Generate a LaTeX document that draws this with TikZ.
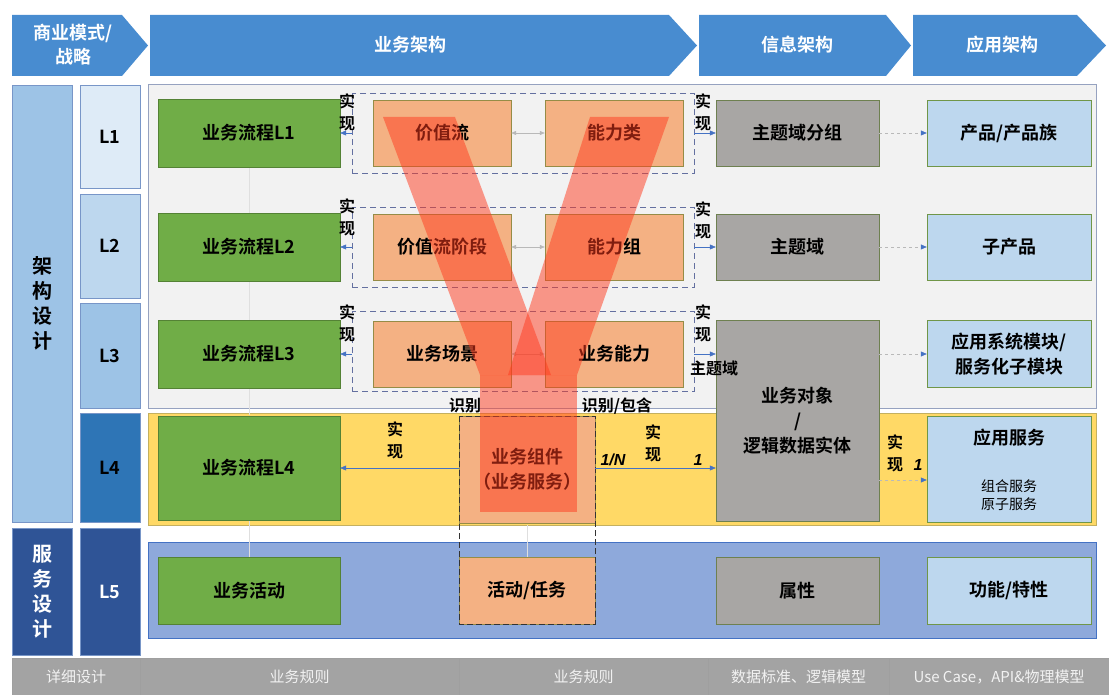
\documentclass[tikz,border=0pt]{standalone}
\usepackage{fontspec}
\setmainfont{Noto Sans CJK SC}[BoldFont={Noto Sans CJK SC Bold}]
\newfontfamily\numfont{Liberation Sans}
\usetikzlibrary{arrows.meta}
\definecolor{hdrblue}{RGB}{72,140,208}
\definecolor{sideblue}{RGB}{157,195,230}
\definecolor{darkblue}{RGB}{47,84,150}
\definecolor{lvlone}{RGB}{222,235,247}
\definecolor{lvltwo}{RGB}{189,215,238}
\definecolor{lvlfour}{RGB}{46,117,182}
\definecolor{lvlborder}{RGB}{120,150,200}
\definecolor{panelgrey}{RGB}{242,242,242}
\definecolor{panelborder}{RGB}{150,162,192}
\definecolor{bandyellow}{RGB}{255,217,102}
\definecolor{yellowborder}{RGB}{196,176,96}
\definecolor{bandblue}{RGB}{142,169,219}
\definecolor{bandborder}{RGB}{68,114,196}
\definecolor{procgreen}{RGB}{112,173,71}
\definecolor{greenborder}{RGB}{84,130,53}
\definecolor{orgfill}{RGB}{244,177,131}
\definecolor{orgborder}{RGB}{150,140,70}
\definecolor{infogrey}{RGB}{168,166,164}
\definecolor{greyborder}{RGB}{110,128,80}
\definecolor{appblue}{RGB}{189,215,238}
\definecolor{appborder}{RGB}{112,150,72}
\definecolor{dashblue}{RGB}{100,112,160}
\definecolor{arrblue}{RGB}{68,114,196}
\definecolor{footgrey}{RGB}{163,163,163}
\definecolor{foottext}{RGB}{242,242,242}
\definecolor{vred}{RGB}{255,58,30}

\begin{document}
\begin{tikzpicture}[x=1pt, y=-1pt]

            % 样式
            \tikzstyle{hdr} = [text=white, align=center, font=\bfseries\fontsize{18}{24}\selectfont]
            \tikzstyle{side} = [rectangle, draw=lvlborder, minimum width=60pt, align=center, font=\bfseries\fontsize{20}{25}\selectfont]
            \tikzstyle{lvl} = [rectangle, draw=lvlborder, minimum width=60pt, font=\bfseries\fontsize{18}{22}\selectfont]
            \tikzstyle{proc} = [rectangle, draw=greenborder, fill=procgreen, minimum width=182pt, minimum height=68pt, font=\bfseries\fontsize{18}{22}\selectfont]
            \tikzstyle{valbox} = [rectangle, draw=orgborder, fill=orgfill, minimum width=138pt, minimum height=66pt, font=\bfseries\fontsize{18}{22}\selectfont]
            \tikzstyle{infobox} = [rectangle, draw=greyborder, fill=infogrey, minimum width=163pt, minimum height=66pt, align=center, font=\bfseries\fontsize{18}{25}\selectfont]
            \tikzstyle{appbox} = [rectangle, draw=appborder, fill=appblue, minimum width=164pt, minimum height=66pt, align=center, font=\bfseries\fontsize{18}{25}\selectfont]
            \tikzstyle{dashbox} = [rectangle, draw=dashblue, dash pattern=on 6pt off 4pt, line width=0.9pt, minimum width=342pt, minimum height=80pt]
            \tikzstyle{lbl} = [inner sep=0pt, align=center, font=\bfseries\fontsize{16}{22}\selectfont]
            \tikzstyle{numlbl} = [inner sep=0pt, font=\numfont\bfseries\itshape\fontsize{16}{20}\selectfont]
            \tikzstyle{foot} = [rectangle, draw=gray!75, fill=footgrey, text=foottext, minimum height=37pt, font=\fontsize{15}{18}\selectfont]
            \tikzstyle{arrowb} = [draw=arrblue, line width=0.5pt, -{Triangle[length=6pt, width=5pt]}]
            \tikzstyle{arrowg} = [draw=gray!55, dashed, line width=0.6pt, -{Triangle[length=6pt, width=5pt, color=arrblue]}]
            \tikzstyle{arrowd} = [draw=gray!55, line width=0.6pt, {Triangle[length=5pt, width=4pt]}-{Triangle[length=5pt, width=4pt]}]
            \tikzstyle{faint} = [draw=gray!25, line width=0.6pt]
            \tikzstyle{small} = [font=\mdseries\fontsize{14}{18}\selectfont]

            \useasboundingbox (0,0) rectangle (1109,695);
            \fill[white] (0,0) rectangle (1109,695);

            % 顶部标题
            \fill[hdrblue] (12,15) -- (122,15) -- (148,45.5) -- (122,76) -- (12,76) -- cycle;
            \fill[hdrblue] (150,15) -- (669,15) -- (697,45.5) -- (669,76) -- (150,76) -- cycle;
            \fill[hdrblue] (699,15) -- (886,15) -- (911,45.5) -- (886,76) -- (699,76) -- cycle;
            \fill[hdrblue] (913,15) -- (1077,15) -- (1106,45.5) -- (1077,76) -- (913,76) -- cycle;
            \node (hstrat) [hdr] at (73,45) {商业模式/\\战略};
            \node (hbiz) [hdr] at (410,45) {业务架构};
            \node (hinfo) [hdr] at (797,45) {信息架构};
            \node (happ) [hdr] at (1002,45) {应用架构};

            % 左侧分层
            \node (jgsj) [side, fill=sideblue, minimum height=437pt] at (42,303.5) {架\\构\\设\\计};
            \node (fwsj) [side, fill=darkblue, text=white, minimum height=127pt] at (42,591.5) {服\\务\\设\\计};
            \node (l1) [lvl, fill=lvlone, minimum height=103pt] at (110,136.5) {L1};
            \node (l2) [lvl, fill=lvltwo, minimum height=104pt] at (110,246) {L2};
            \node (l3) [lvl, fill=sideblue, minimum height=105pt] at (110,355.5) {L3};
            \node (l4) [lvl, fill=lvlfour, minimum height=109pt] at (110,467.5) {L4};
            \node (l5) [lvl, fill=darkblue, text=white, minimum height=127pt] at (110,591.5) {L5};

            % 背景带
            \draw[panelborder, fill=panelgrey, line width=0.8pt] (148,84) rectangle (1096,408);
            \draw[yellowborder, fill=bandyellow, line width=0.8pt] (148,413) rectangle (1096,525);
            \draw[bandborder, fill=bandblue, line width=0.8pt] (148,542) rectangle (1096,638);

            % 淡连线
            \draw[faint] (249,168) -- (249,213);
            \draw[faint] (249,281) -- (249,320);
            \draw[faint] (249,388) -- (249,415);
            \draw[faint] (249,521) -- (249,557);
            \draw[faint] (527,525) -- (527,557);

            % 虚线框
            \node (c1) [dashbox] at (523,133) {};
            \node (c2) [dashbox] at (523,247) {};
            \node (c3) [dashbox] at (523,351) {};

            % 业务流程
            \node (g1) [proc] at (249,133) {业务流程L1};
            \node (g2) [proc] at (249,247) {业务流程L2};
            \node (g3) [proc] at (249,354) {业务流程L3};
            \node (g4) [proc, minimum height=104pt] at (249,468) {业务流程L4};
            \node (g5) [proc, minimum height=67pt] at (249,590.5) {业务活动};

            % 价值流 / 能力
            \node (v1) [valbox] at (442,133) {价值流};
            \node (k1) [valbox] at (614,133) {能力类};
            \node (v2) [valbox] at (442,247) {价值流阶段};
            \node (k2) [valbox] at (614,247) {能力组};
            \node (v3) [valbox] at (442,354) {业务场景};
            \node (k3) [valbox] at (614,354) {业务能力};
            \node (comp) [valbox, minimum width=136pt, minimum height=107pt, align=center, font=\bfseries\fontsize{18}{25}\selectfont] at (527,469.5) {业务组件\\（业务服务）};
            \node (act) [valbox, minimum width=136pt, minimum height=67pt] at (527,590.5) {活动/任务};
            \draw[black!80, dash pattern=on 6pt off 3pt, line width=1pt] (459,416) rectangle (595,624);

            % 信息架构
            \node (sub1) [infobox] at (797.5,133) {主题域分组};
            \node (sub2) [infobox] at (797.5,247) {主题域};
            \node (obj) [infobox, minimum height=201pt] at (797.5,420.5) {业务对象\\/\\逻辑数据实体};
            \node (attr) [infobox, minimum height=67pt] at (797.5,590.5) {属性};

            % 应用架构
            \node (p1) [appbox] at (1009,133) {产品/产品族};
            \node (p2) [appbox] at (1009,247) {子产品};
            \node (p3) [appbox, minimum height=67pt] at (1009,354) {应用系统模块/\\服务化子模块};
            \node (svc) [appbox, minimum height=106pt] at (1009,469) {};
            \node (svct) [font=\bfseries\fontsize{18}{22}\selectfont] at (1009,438) {应用服务};
            \node (svcs) [small, align=center] at (1009,495) {组合服务\\原子服务};
            \node (feat) [appbox, minimum height=67pt] at (1009,590.5) {功能/特性};

            % 箭头
            \draw [arrowb] (c1.west |- g1) -- (g1.east);
            \draw [arrowb] (c2.west |- g2) -- (g2.east);
            \draw [arrowb] (c3.west |- g3) -- (g3.east);
            \draw [arrowd] (v1) -- (k1);
            \draw [arrowd] (v2) -- (k2);
            \draw [arrowd] (v3) -- (k3);
            \draw [arrowb] (c1.east |- sub1) -- (sub1.west);
            \draw [arrowb] (c2.east |- sub2) -- (sub2.west);
            \draw [arrowb] (c3.east |- p3) -- (obj.west |- p3);
            \draw [arrowg] (sub1) -- (p1);
            \draw [arrowg] (sub2) -- (p2);
            \draw [arrowg] (obj.east |- p3) -- (p3.west);
            \draw [arrowb] (comp.west |- g4) -- (g4.east);
            \draw [arrowb] (comp.east |- g4) -- (obj.west |- g4);
            \coordinate (y4) at (0,480);
            \draw [arrowg] (obj.east |- y4) -- (svc.west |- y4);

            % 标签
            \node (s1l) [lbl] at (347,112) {实\\现};
            \node (s2l) [lbl] at (347,217) {实\\现};
            \node (s3l) [lbl] at (347,323) {实\\现};
            \node (s1r) [lbl] at (703,112) {实\\现};
            \node (s2r) [lbl] at (703,220) {实\\现};
            \node (s3r) [lbl] at (703,323) {实\\现};
            \node (zty) [lbl] at (714,368) {主题域};
            \node (sb1) [lbl] at (465,406) {识别};
            \node (sb2) [lbl] at (617,406) {识别/包含};
            \node (s4l) [lbl] at (395,440) {实\\现};
            \node (s4r) [lbl] at (653,443) {实\\现};
            \node (n1) [numlbl] at (613,460) {1/N};
            \node (n2) [numlbl] at (698,460) {1};
            \node (s5r) [lbl] at (895,453) {实\\现};
            \node (n3) [numlbl] at (918,465) {1};

            % V 形
            \fill[vred, opacity=0.5] (383,117) -- (455,117) -- (551,375) -- (480,375) -- cycle;
            \fill[vred, opacity=0.5] (590,117) -- (669,117) -- (577,375) -- (508,375) -- cycle;
            \fill[vred, opacity=0.5] (480,375) rectangle (577,512);

            % 底部
            \node (f1) [foot, minimum width=128pt] at (76,676.5) {详细设计};
            \node (f2) [foot, minimum width=319pt] at (299.5,676.5) {业务规则};
            \node (f3) [foot, minimum width=249pt] at (583.5,676.5) {业务规则};
            \node (f4) [foot, minimum width=181pt] at (798.5,676.5) {数据标准、逻辑模型};
            \node (f5) [foot, minimum width=220pt] at (999,676.5) {Use Case，API\&物理模型};

\end{tikzpicture}
\end{document}
